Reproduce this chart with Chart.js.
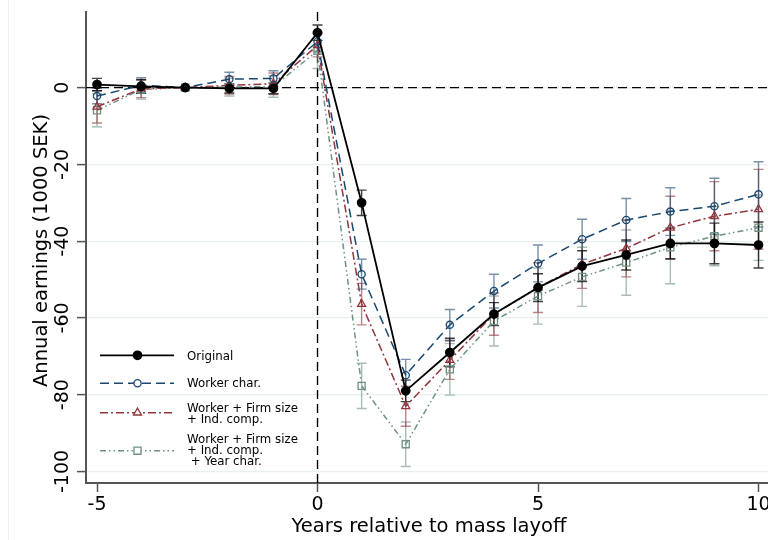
<!DOCTYPE html>
<html><head><meta charset="utf-8">
<script src="https://cdn.jsdelivr.net/npm/chart.js@4.4.1/dist/chart.umd.min.js"></script>
<style>
html,body{margin:0;padding:0;background:#fff;overflow:hidden}
#wrap{width:768px;height:540px;position:relative;background:#fff}
</style></head><body>
<div id="wrap"><canvas id="c" width="768" height="540" style="width:768px;height:540px"></canvas></div>
<script>
// ---- data ----
const years = [-5,-4,-3,-2,-1,0,1,2,3,4,5,6,7,8,9,10];
const original   = [0.8, 0.3, 0, -0.2, -0.2, 14.3, -30.0, -79.0, -69.0, -59.0, -52.1, -46.5, -43.6, -40.6, -40.6, -41.0];
const originalCI = [1.6, 1.8, 0, 1.2, 1.4, 2.0, 3.3, 2.8, 3.7, 3.0, 3.6, 4.0, 3.9, 4.0, 5.3, 6.0];
const workerChar   = [-2.2, 0.6, 0, 2.2, 2.4, 12.0, -48.6, -74.9, -61.8, -53.0, -45.8, -39.5, -34.5, -32.3, -30.9, -27.8];
const workerCharCI = [2.0, 2.0, 0, 1.8, 2.0, 2.5, 3.9, 4.1, 4.0, 4.4, 4.8, 5.2, 5.6, 6.2, 7.3, 8.5];
const firmInd   = [-5.0, -0.3, 0, 0.6, 1.0, 11.0, -56.4, -83.0, -71.0, -59.0, -52.1, -46.0, -41.9, -36.5, -33.5, -31.7];
const firmIndCI = [4.2, 2.3, 0, 2.3, 2.8, 3.0, 5.4, 5.2, 5.0, 5.5, 6.5, 6.3, 7.4, 8.2, 9.0, 10.4];
const yearChar   = [-5.9, -0.5, 0, 0.1, 0.3, 9.6, -77.7, -92.9, -73.4, -60.8, -54.3, -49.3, -45.6, -41.6, -38.7, -36.5];
const yearCharCI = [4.3, 2.5, 0, 2.3, 2.8, 4.6, 5.9, 5.8, 6.7, 6.5, 7.3, 7.7, 8.5, 9.5, 7.7, 8.5];
const seriesLabels = [["Original"], ["Worker char."], ["Worker + Firm size", "+ Ind. comp."], ["Worker + Firm size", "+ Ind. comp.", " + Year char."]];
const xTicks = [-5, 0, 5, 10];
const yTicks = [-100, -80, -60, -40, -20, 0];
const xTitle = "Years relative to mass layoff";
const yTitle = "Annual earnings (1000 SEK)";

const FONT = '"DejaVu Sans", sans-serif';
const toPts = arr => years.map((x, i) => ({x: x, y: arr[i]}));

const styles = [
  {color:'#000000', ci:'rgba(0,0,0,0.75)', dash:[], point:'circle', r:4.2, fill:'#000000', lw:1.8},
  {color:'#1a476f', ci:'rgba(26,71,111,0.6)', dash:[9,5], point:'circle', r:3.6, fill:'rgba(0,0,0,0)', lw:1.5},
  {color:'#90353b', ci:'rgba(144,53,59,0.6)', dash:[8,3,2,3], point:'triangle', r:4.6, fill:'rgba(0,0,0,0)', lw:1.5},
  {color:'#6e9181', ci:'rgba(110,145,129,0.6)', dash:[6,3,1.5,3,1.5,3], point:'rect', r:5, fill:'rgba(0,0,0,0)', lw:1.5}
];
const values = [original, workerChar, firmInd, yearChar];
const cis = [originalCI, workerCharCI, firmIndCI, yearCharCI];

const datasets = values.map((v, k) => ({
  label: seriesLabels[k].join(' '),
  data: toPts(v),
  ci: cis[k],
  borderColor: styles[k].color,
  borderWidth: styles[k].lw,
  borderDash: styles[k].dash,
  pointStyle: styles[k].point,
  pointRadius: styles[k].r,
  pointBorderWidth: 1.3,
  pointBorderColor: styles[k].color,
  pointBackgroundColor: styles[k].fill,
  fill: false,
  tension: 0,
  clip: 8
}));

const refAndErr = {
  id: 'refAndErr',
  beforeDatasetsDraw(chart) {
    const {ctx, chartArea: a, scales: {x, y}} = chart;
    ctx.save();
    ctx.strokeStyle = '#000';
    ctx.lineWidth = 1.4;
    ctx.setLineDash([9, 5]);
    const y0 = y.getPixelForValue(0), x0 = x.getPixelForValue(0);
    ctx.beginPath(); ctx.moveTo(a.left, y0); ctx.lineTo(a.right, y0); ctx.stroke();
    ctx.beginPath(); ctx.moveTo(x0, a.top); ctx.lineTo(x0, a.bottom); ctx.stroke();
    ctx.setLineDash([]);
    for (let k = chart.data.datasets.length - 1; k >= 0; k--) {
      const ds = chart.data.datasets[k];
      ctx.strokeStyle = styles[k].ci;
      ctx.lineWidth = 1.4;
      ds.data.forEach((p, i) => {
        const h = ds.ci[i];
        if (!h) return;
        const px = x.getPixelForValue(p.x);
        const pt = y.getPixelForValue(p.y + h);
        const pb = y.getPixelForValue(p.y - h);
        ctx.beginPath();
        ctx.moveTo(px, pt); ctx.lineTo(px, pb);
        ctx.moveTo(px - 5, pt); ctx.lineTo(px + 5, pt);
        ctx.moveTo(px - 5, pb); ctx.lineTo(px + 5, pb);
        ctx.stroke();
      });
    }
    ctx.restore();
  }
};

function marker(ctx, kind, cx, cy, r, stroke, fill) {
  ctx.beginPath();
  if (kind === 'circle') {
    ctx.arc(cx, cy, r, 0, Math.PI * 2);
  } else if (kind === 'triangle') {
    for (let j = 0; j < 3; j++) {
      const ang = j * 2 * Math.PI / 3;
      const px = cx + Math.sin(ang) * r, py = cy - Math.cos(ang) * r;
      if (j === 0) ctx.moveTo(px, py); else ctx.lineTo(px, py);
    }
    ctx.closePath();
  } else {
    const s = r * Math.SQRT1_2;
    ctx.rect(cx - s, cy - s, 2 * s, 2 * s);
  }
  ctx.fillStyle = fill; ctx.fill();
  ctx.strokeStyle = stroke; ctx.lineWidth = 1.3; ctx.stroke();
}

const texts = {
  id: 'texts',
  afterDraw(chart) {
    const {ctx, scales: {x, y}} = chart;
    ctx.save();
    ctx.strokeStyle = '#eef1f3'; ctx.lineWidth = 1;
    ctx.beginPath(); ctx.moveTo(8.5, 0); ctx.lineTo(8.5, 540); ctx.stroke();
    ctx.fillStyle = '#000';
    ctx.font = '19px ' + FONT;
    ctx.textAlign = 'center'; ctx.textBaseline = 'alphabetic';
    x.ticks.forEach(t => ctx.fillText(String(t.value), x.getPixelForValue(t.value), 510));
    ctx.font = '19.5px ' + FONT;
    ctx.fillText(xTitle, 429, 532);
    ctx.font = '19px ' + FONT;
    y.ticks.forEach(t => {
      ctx.save();
      ctx.translate(68, y.getPixelForValue(t.value));
      ctx.rotate(-Math.PI / 2);
      ctx.textAlign = 'center';
      ctx.fillText(String(t.value), 0, 0);
      ctx.restore();
    });
    ctx.save();
    ctx.font = '19.5px ' + FONT;
    ctx.translate(47, 250.5);
    ctx.rotate(-Math.PI / 2);
    ctx.textAlign = 'center';
    ctx.fillText(yTitle, 0, 0);
    ctx.restore();
    const lineY = [355.3, 383.3, 412.7, 450.7];
    const baseY = [[360], [387.3], [412.3, 423], [443.4, 454.1, 465]];
    ctx.font = '11.8px ' + FONT;
    ctx.textAlign = 'left';
    styles.forEach((s, k) => {
      ctx.strokeStyle = s.color; ctx.lineWidth = s.lw;
      ctx.setLineDash(s.dash);
      ctx.beginPath(); ctx.moveTo(100, lineY[k]); ctx.lineTo(174, lineY[k]); ctx.stroke();
      ctx.setLineDash([]);
      marker(ctx, s.point, 137.5, lineY[k], s.r, s.color, s.fill === '#000000' ? '#000' : '#fff');
      ctx.fillStyle = '#000';
      seriesLabels[k].forEach((line, j) => ctx.fillText(line, 187, baseY[k][j]));
    });
    ctx.restore();
  }
};

new Chart(document.getElementById('c'), {
  type: 'line',
  data: {datasets: datasets},
  options: {
    responsive: false,
    animation: false,
    devicePixelRatio: 1,
    layout: {autoPadding: false, padding: {top: 12, left: 0, right: 0, bottom: 0}},
    plugins: {legend: {display: false}, tooltip: {enabled: false}},
    scales: {
      x: {
        type: 'linear', min: -5.25, max: -5.25 + (768 - 86) / 44.1,
        afterBuildTicks: s => { s.ticks = xTicks.map(v => ({value: v})); },
        afterFit: s => { s.height = 57; },
        ticks: {display: false},
        grid: {drawOnChartArea: false, drawTicks: true, tickLength: 9, tickColor: '#555', tickWidth: 1.5},
        border: {display: true, color: '#555', width: 2}
      },
      y: {
        type: 'linear', min: -103, max: 19.7,
        afterBuildTicks: s => { s.ticks = yTicks.map(v => ({value: v})); },
        afterFit: s => { s.width = 86; },
        ticks: {display: false},
        grid: {drawOnChartArea: true, color: '#e7eff2', lineWidth: 1.2, drawTicks: true, tickLength: 9, tickColor: '#555', tickWidth: 1.5},
        border: {display: true, color: '#555', width: 2}
      }
    }
  },
  plugins: [refAndErr, texts]
});
</script>
</body></html>
